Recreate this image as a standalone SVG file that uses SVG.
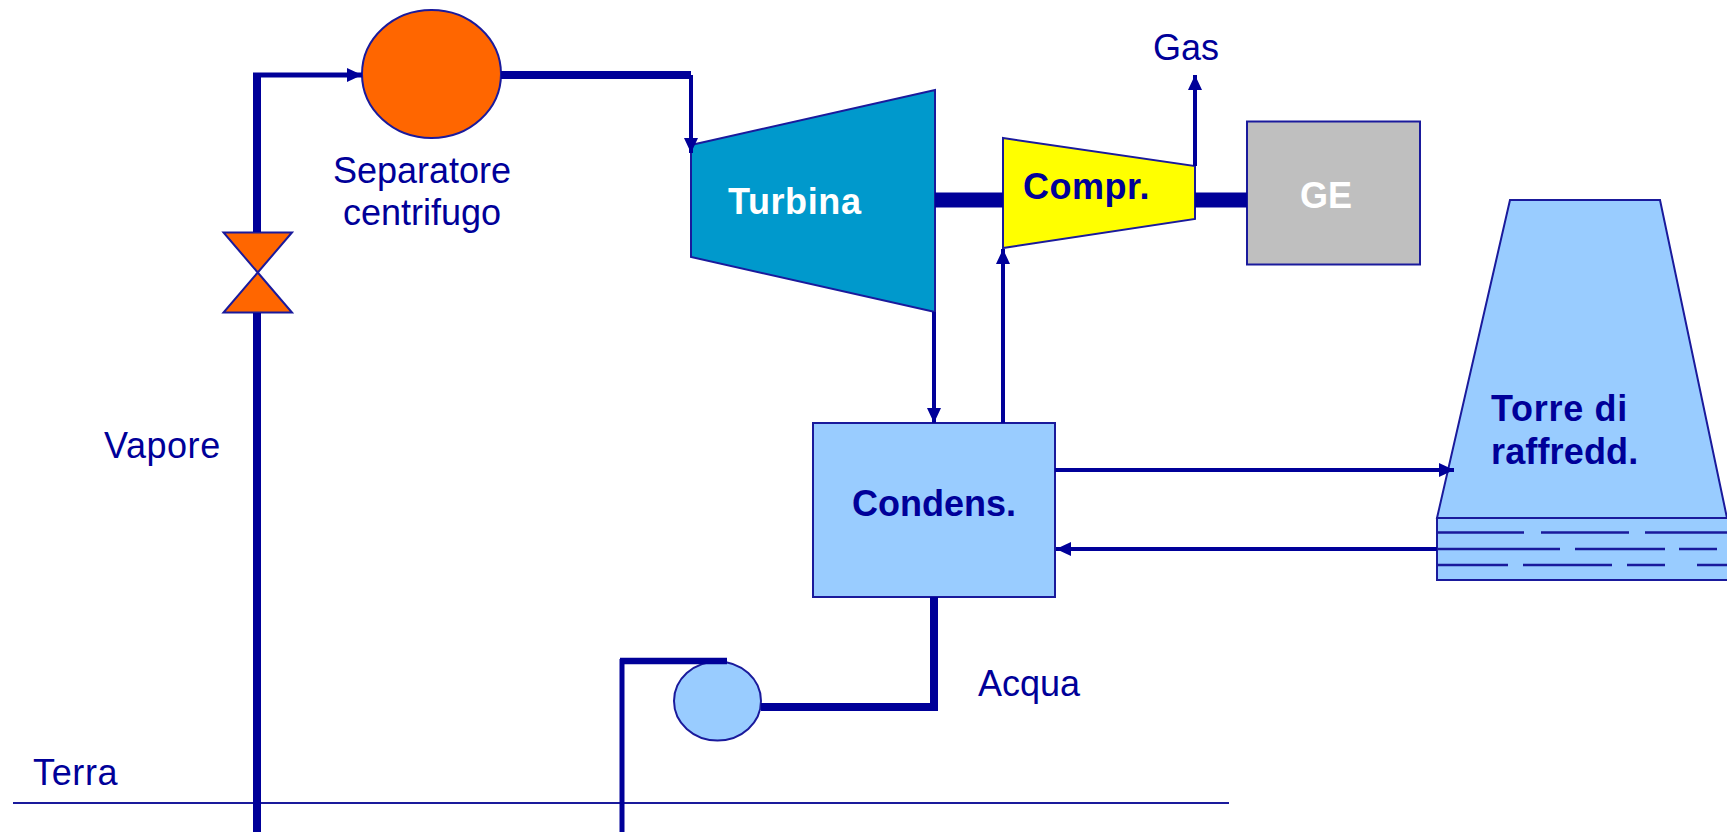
<svg xmlns="http://www.w3.org/2000/svg" width="1727" height="832" viewBox="0 0 1727 832">
<style>
text{font-family:"Liberation Sans",Arial,sans-serif;font-size:36px;fill:#000099}
.b{font-weight:bold}
.shape{stroke:#1a1a9c;stroke-width:2}
.pipe{fill:none;stroke:#000099;stroke-linejoin:miter}
.w8{stroke-width:8}.w6{stroke-width:6.5}.w5{stroke-width:5}.w4{stroke-width:4}.w15{stroke-width:15}
.dash{stroke:#1a1a9c;stroke-width:2.5;fill:none}
</style>
<defs>
<marker id="arrow" markerUnits="userSpaceOnUse" markerWidth="16" markerHeight="14" refX="15" refY="7" orient="auto">
<path d="M0 0L15 7L0 14Z" fill="#000099"/>
</marker>
</defs>
<rect width="1727" height="832" fill="#fff"/>
<g id="separatore">
<ellipse class="shape" cx="431.500" cy="74" rx="69.500" ry="64" fill="#FF6600"/>
<text x="422" y="183" text-anchor="middle">Separatore</text>
<text x="422" y="225" text-anchor="middle">centrifugo</text>
</g>
<g id="valvola">
<path class="shape" d="M223.500 232.500H292L223.500 312.500H292Z" fill="#FF6600"/>
</g>
<g id="turbina">
<path class="shape" d="M691 145L935 90V312L691 257Z" fill="#0099CC"/>
<text class="b" x="728" y="214" style="fill:#fff;letter-spacing:.6px">Turbina</text>
</g>
<g id="compressore">
<path class="shape" d="M1003 138L1195 166V219L1003 248Z" fill="#FFFF00"/>
<text class="b" x="1023" y="199" style="letter-spacing:.5px">Compr.</text>
</g>
<g id="generatore">
<rect class="shape" x="1247" y="121.500" width="173" height="143" fill="#BFBFBF"/>
<text class="b" x="1326" y="208" text-anchor="middle" style="fill:#fff">GE</text>
</g>
<g id="condensatore">
<rect class="shape" x="813" y="423" width="242" height="174" fill="#99CCFF"/>
<text class="b" x="934" y="516" text-anchor="middle">Condens.</text>
</g>
<g id="torre">
<path class="shape" d="M1437 518L1510 200H1660L1727 518Z" fill="#99CCFF"/>
<path class="shape" d="M1728 518H1437V580H1728Z" fill="#99CCFF"/>
<path class="dash" d="M1437 532.500H1524M1541 532.500H1629M1645 532.500H1727M1437 549H1560M1575 549H1665M1679 549H1717M1437 565H1508M1523 565H1612M1627 565H1665M1697 565H1727"/>
<text class="b" x="1491" y="421" style="letter-spacing:.7px">Torre di</text>
<text class="b" x="1491" y="464" style="letter-spacing:.15px">raffredd.</text>
</g>
<g id="pompa">
<ellipse class="shape" cx="717.500" cy="701" rx="43.500" ry="39.500" fill="#99CCFF"/>
</g>
<g id="terra">
<path d="M13 803H1229" stroke="#1a1a9c" stroke-width="2" fill="none"/>
<text x="33" y="785" style="letter-spacing:.65px">Terra</text>
</g>
<g id="labels">
<text x="104" y="458" style="letter-spacing:.55px">Vapore</text>
<text x="1153" y="60">Gas</text>
<text x="978" y="696">Acqua</text>
</g>
<g id="connectors">
<path class="pipe w8" d="M257 832V313"/>
<path class="pipe w8" d="M257 232V73"/>
<path class="pipe w5" d="M253 75H362" marker-end="url(#arrow)"/>
<path class="pipe w8" d="M501 75H691"/>
<path class="pipe w4" d="M691 75V153" marker-end="url(#arrow)"/>
<path class="pipe w15" d="M935 200H1003M1195 200H1247"/>
<path class="pipe w4" d="M1195 166V75" marker-end="url(#arrow)"/>
<path class="pipe w4" d="M934 312V423" marker-end="url(#arrow)"/>
<path class="pipe w4" d="M1003 423V249" marker-end="url(#arrow)"/>
<path class="pipe w4" d="M1055 470H1454" marker-end="url(#arrow)"/>
<path class="pipe w4" d="M1437 549H1056" marker-end="url(#arrow)"/>
<path class="pipe w8" d="M934 597V707H761"/>
<path class="pipe w6" d="M727 661H620"/>
<path class="pipe w5" d="M622 659V832"/>
</g>
</svg>
